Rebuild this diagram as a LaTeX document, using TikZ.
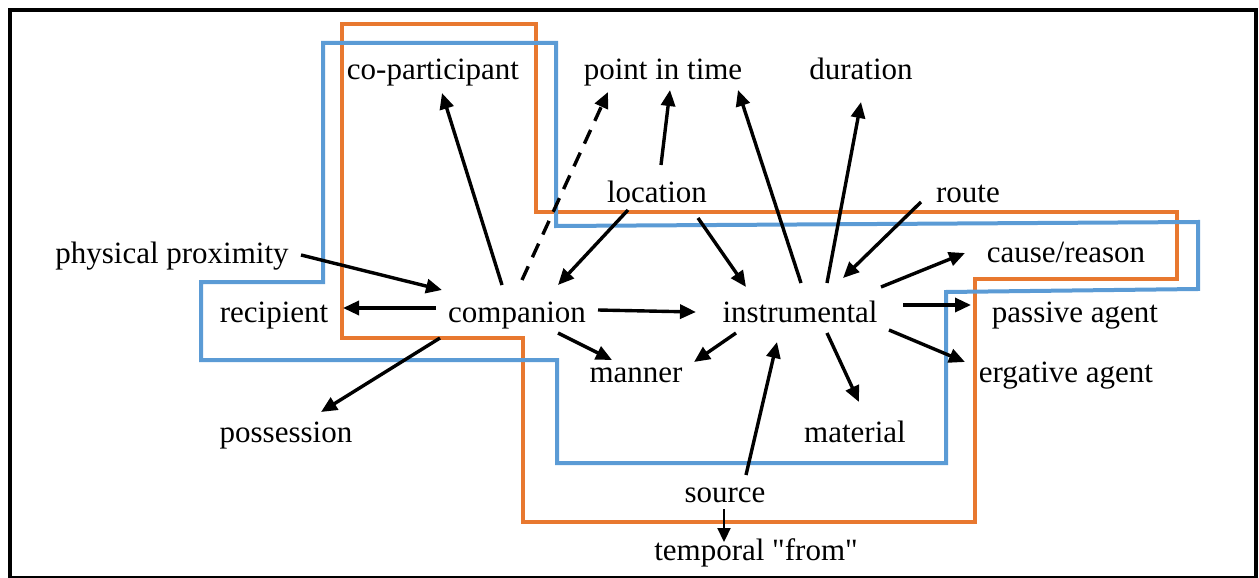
\documentclass[tikz,border=0pt]{standalone}
\usepackage{fontspec}
\setmainfont{Liberation Serif}[Ligatures=TeXOff]
\usetikzlibrary{arrows.meta,calc}
\definecolor{oline}{HTML}{E8782F}
\definecolor{bline}{HTML}{5B9BD5}
\begin{document}
\begin{tikzpicture}[x=1pt,y=-1pt,
  lbl/.style={inner sep=0pt,anchor=base,font=\fontsize{31}{36}\selectfont},
  arr/.style={line width=3.4pt,-{Triangle[length=16pt,width=14pt]}},
  darr/.style={arr,dash pattern=on 15pt off 10pt},
  orangeline/.style={draw=oline,line width=4pt,line join=miter},
  blueline/.style={draw=bline,line width=4pt,line join=miter}]
\useasboundingbox (0,0) rectangle (1259,578);
\draw[line width=3.5pt] (10,10) rectangle (1256,578);
% group outlines
\draw[orangeline] (342,24) -- (536,24) -- (536,212) -- (1177,212) -- (1177,279) -- (975,279) -- (975,522) -- (523,522) -- (523,338) -- (342,338) -- cycle;
\draw[blueline] (323,43) -- (556,43) -- (556,226) -- (1198,222) -- (1198,289) -- (946,292) -- (946,463) -- (557,463) -- (557,360) -- (201,360) -- (201,282) -- (323,282) -- cycle;
% labels
\node[lbl] (cop) at (433,80) {co-participant};
\node[lbl] (pit) at (663,80) {point in time};
\node[lbl] (dur) at (861,80) {duration};
\node[lbl] (loc) at (657,202) {location};
\node[lbl] (route) at (968,202) {route};
\node[lbl] (phys) at (172,263) {physical proximity};
\node[lbl] (cause) at (1066,262) {cause/reason};
\node[lbl] (recip) at (274,322) {recipient};
\node[lbl] (comp) at (517,322) {companion};
\node[lbl] (instr) at (800,322) {instrumental};
\node[lbl] (passive) at (1075,322) {passive agent};
\node[lbl] (manner) at (636,382) {manner};
\node[lbl] (erg) at (1066,382) {ergative agent};
\node[lbl] (poss) at (286,442) {possession};
\node[lbl] (mat) at (855,442) {material};
\node[lbl] (source) at (725,502) {source};
\node[lbl] (temp) at (756,560) {temporal "from"};
% connectors
\draw[arr] ($(comp.base)+(-15,-37)$) -- ($(cop.base)+(9,13)$);
\draw[darr] ($(comp.base)+(5,-42)$) -- ($(pit.base)+(-55,12)$);
\draw[arr] ($(loc.base)+(-29,8)$) -- ($(comp.base)+(41,-37)$);
\draw[arr] ($(phys.base)+(129,-8)$) -- ($(comp.base)+(-75,-32)$);
\draw[arr] ($(loc.base)+(4,-37)$) -- ($(pit.base)+(7,10)$);
\draw[arr] ($(instr.base)+(1,-39)$) -- ($(pit.base)+(75,10)$);
\draw[arr] ($(instr.base)+(27,-39)$) -- ($(dur.base)+(0,22)$);
\draw[arr] ($(route.base)+(-47,0)$) -- ($(instr.base)+(43,-44)$);
\draw[arr] ($(loc.base)+(41,16)$) -- ($(instr.base)+(-54,-35)$);
\draw[arr] ($(instr.base)+(81,-35)$) -- ($(cause.base)+(-101,-9)$);
\draw[arr] ($(comp.base)+(-81,-14)$) -- ($(recip.base)+(69,-14)$);
\draw[arr] ($(comp.base)+(81,-12)$) -- ($(instr.base)+(-104,-10)$);
\draw[arr] ($(comp.base)+(41,11)$) -- ($(manner.base)+(-24,-22)$);
\draw[arr] ($(comp.base)+(-77,16)$) -- ($(poss.base)+(35,-30)$);
\draw[arr] ($(instr.base)+(103,-17)$) -- ($(passive.base)+(-104,-17)$);
\draw[arr] ($(instr.base)+(-64,11)$) -- ($(manner.base)+(58,-20)$);
\draw[arr] ($(source.base)+(21,-27)$) -- ($(instr.base)+(-23,20)$);
\draw[arr] ($(instr.base)+(27,11)$) -- ($(mat.base)+(4,-40)$);
\draw[arr] ($(instr.base)+(89,8)$) -- ($(erg.base)+(-101,-20)$);
\draw[line width=2.2pt,-{Triangle[length=14pt,width=13pt]}] ($(source.base)+(-1,7)$) -- ($(temp.base)+(-32,-18)$);
\end{tikzpicture}
\end{document}
